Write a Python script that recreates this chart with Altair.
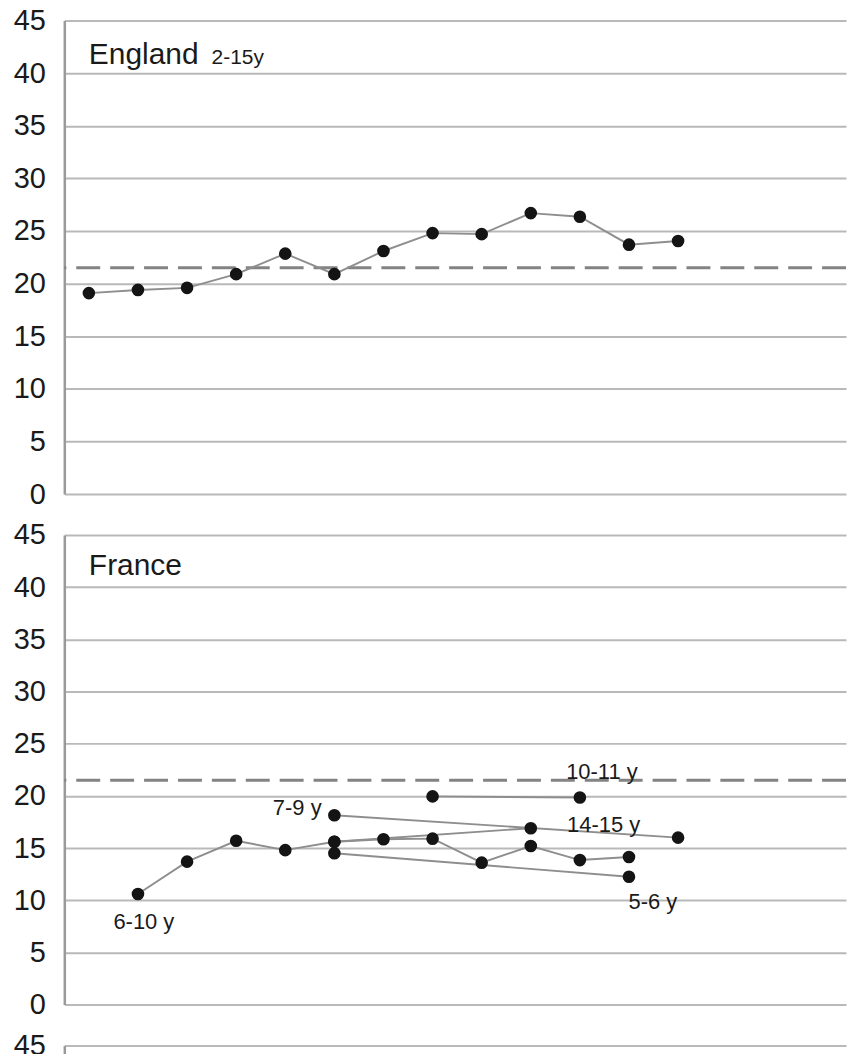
import altair as alt
import pandas as pd

# England, children 2-15 years
eng_years = list(range(1995, 2008))
eng_values = [19.1, 19.4, 19.6, 20.9, 22.85, 20.9, 23.1, 24.8, 24.7, 26.7, 26.35, 23.7, 24.05]

# France, separate age-group surveys
fr_6_10_years = list(range(1996, 2007))
fr_6_10_values = [10.6, 13.7, 15.7, 14.8, 15.6, 15.85, 15.9, 13.6, 15.2, 13.85, 14.15]
fr_7_9_years = [2000, 2007]
fr_7_9_values = [18.15, 16.0]
fr_5_6_years = [2000, 2006]
fr_5_6_values = [14.5, 12.25]
fr_10_11_years = [2002, 2005]
fr_10_11_values = [19.95, 19.85]
fr_14_15_years = [2000, 2004]
fr_14_15_values = [15.6, 16.9]

reference_level = 21.5
y_ticks = [0, 5, 10, 15, 20, 25, 30, 35, 40, 45]
x_domain = [1994.5, 2010.42]

# series labels: text, year, value, alignment
fr_label_text = ["6-10 y", "7-9 y", "10-11 y", "14-15 y", "5-6 y"]
fr_label_year = [1996.12, 1999.74, 2004.72, 2004.74, 2005.99]
fr_label_value = [7.25, 18.2, 21.6, 16.5, 9.2]
fr_label_align = ["center", "right", "left", "left", "left"]

FONT = "Liberation Sans"
TEXT_COLOR = "#1a1a1a"
WIDTH = 784


def series_frame(name, years, values):
    return pd.DataFrame({"series": name, "year": years, "value": values})


eng_df = series_frame("2-15 y", eng_years, eng_values)
fr_df = pd.concat([
    series_frame("6-10 y", fr_6_10_years, fr_6_10_values),
    series_frame("7-9 y", fr_7_9_years, fr_7_9_values),
    series_frame("5-6 y", fr_5_6_years, fr_5_6_values),
    series_frame("10-11 y", fr_10_11_years, fr_10_11_values),
    series_frame("14-15 y", fr_14_15_years, fr_14_15_values),
], ignore_index=True)

fr_labels = pd.DataFrame({
    "label": fr_label_text,
    "year": fr_label_year,
    "value": fr_label_value,
    "align": fr_label_align,
})

x_enc = alt.X("year:Q", scale=alt.Scale(domain=x_domain), axis=None)


def y_enc(domain, ticks):
    return alt.Y(
        "value:Q",
        scale=alt.Scale(domain=domain, nice=False, zero=False),
        axis=alt.Axis(values=ticks, title=None),
    )


def panel(points, titles, labels, height):
    y = y_enc([0, 45], y_ticks)
    rule = alt.Chart(pd.DataFrame({"value": [reference_level]})).mark_rule(
        color="#838383", strokeWidth=3, strokeDash=[24, 10]
    ).encode(y=alt.Y("value:Q", scale=alt.Scale(domain=[0, 45], nice=False)))
    lines = alt.Chart(points).mark_line(color="#8e8e8e", strokeWidth=1.9).encode(
        x=x_enc, y=y, detail="series:N"
    )
    dots = alt.Chart(points).mark_circle(size=160, color="#141414", opacity=1).encode(
        x=x_enc, y=y
    )
    layers = [rule, lines, dots]
    for text, year, value, size in titles:
        layers.append(
            alt.Chart(pd.DataFrame({"t": [text], "year": [year], "value": [value]}))
            .mark_text(font=FONT, fontSize=size, color=TEXT_COLOR, align="left",
                       baseline="alphabetic")
            .encode(x=x_enc, y=y, text="t:N")
        )
    if labels is not None:
        for align in ["left", "center", "right"]:
            sub = labels[labels["align"] == align]
            if len(sub):
                layers.append(
                    alt.Chart(sub).mark_text(font=FONT, fontSize=22, color=TEXT_COLOR,
                                             align=align, baseline="alphabetic")
                    .encode(x=x_enc, y=y, text="label:N")
                )
    return alt.layer(*layers).properties(width=WIDTH, height=height)


england = panel(eng_df, [("England", 1995.0, 40.85, 30), ("2-15y", 1997.5, 40.85, 21)], None, 475)
france = panel(fr_df, [("France", 1995.0, 41.15, 30)], fr_labels, 471)

# next panel, only its top edge is in view
next_panel = alt.Chart(pd.DataFrame({"year": [1995.0], "value": [45.0]})).mark_circle(
    opacity=0
).encode(x=x_enc, y=y_enc([44.0, 45.0], [45])).properties(width=WIDTH, height=10.5)

chart = alt.vconcat(england, france, next_panel, spacing=41).properties(
    bounds="flush",
    padding={"left": 12.5, "top": 5, "right": 0, "bottom": 0},
    background="white",
).configure_view(strokeWidth=0).configure_axis(
    labelFont=FONT,
    labelFontSize=29,
    labelColor=TEXT_COLOR,
    labelPadding=19,
    ticks=False,
    domainColor="#9a9a9a",
    domainWidth=2.5,
    gridColor="#b9b9b9",
    gridWidth=2,
    grid=True,
)

chart.save("out.html", embed_options={"renderer": "svg", "actions": False})
